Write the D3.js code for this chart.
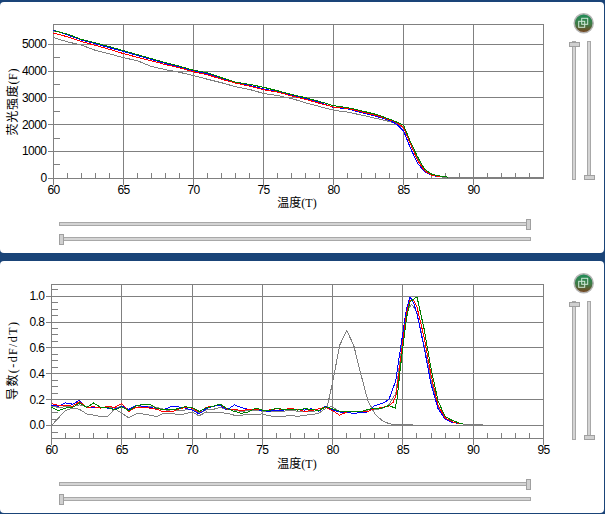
<!DOCTYPE html>
<html><head><meta charset="utf-8">
<script src="https://cdnjs.cloudflare.com/ajax/libs/d3/7.8.5/d3.min.js"></script>
<style>
html,body{margin:0;padding:0;background:#1a4478;overflow:hidden}
svg{display:block}
.num{font:12px "Liberation Sans",sans-serif;letter-spacing:-.55px;fill:#000}
.lab{font:12px "Liberation Serif","Noto Sans CJK SC",serif;fill:#000}
</style></head><body>
<svg id="c" width="605" height="514"></svg>
<script>
const xLabel = "温度(T)";
const topYLabel = "荧光强度(F)";
const botYLabel = "导数(-dF/dT)";
const topXTicks = [60,65,70,75,80,85,90];
const botXTicks = [60,65,70,75,80,85,90,95];
const topYTicks = [0,1000,2000,3000,4000,5000];
const botYTicks = [0,0.2,0.4,0.6,0.8,1.0];

// melt curve: shared temperatures, then each well's own tail through the transition
const meltT = [60,61,62,63,64,65,66,67,68,69,70,71,72,73,74,75,76,77,78,79,80,81,82,83,84,84.5];
const meltGreen = [5520,5390,5190,5060,4920,4770,4620,4470,4320,4190,4040,3940,3760,3590,3510,3400,3270,3130,3010,2870,2710,2640,2520,2390,2210,2100];
const meltBlue  = [5540,5360,5170,5030,4880,4740,4590,4440,4290,4160,4010,3900,3720,3570,3470,3340,3240,3100,2980,2830,2650,2590,2450,2320,2160,2020];
const meltRed   = [5430,5290,5110,4970,4820,4660,4520,4390,4250,4130,3980,3870,3700,3560,3440,3310,3220,3080,2950,2800,2660,2610,2480,2350,2190,2080];
const meltGray  = [5260,5100,4980,4780,4650,4510,4390,4180,4060,3960,3840,3700,3570,3420,3320,3170,3090,2980,2820,2680,2540,2470,2360,2240,2120,2040];
const meltGreenTailT = [85,85.5,86,86.5,87,87.5,88,88.2];
const meltGreenTailV = [1985,1360,800,340,150,85,50,30];
const meltBlueTailT  = [85,85.5,86,86.5,87,87.5,87.7];
const meltBlueTailV  = [1770,1120,560,235,100,50,40];
const meltRedTailT   = [85,85.5,86,86.5,87,87.5,87.9];
const meltRedTailV   = [1900,1270,675,275,115,60,40];
const meltGrayTailT  = [85,85.5,86,86.5,87,87.5,88,95];
const meltGrayTailV  = [1870,1310,740,310,130,60,20,15];

// derivative curve
const derivT = [60,60.5,61,61.5,62,62.5,63,63.5,64,64.5,65,65.5,66,66.5,67,67.5,68,68.5,69,69.5,70,70.5,71,71.5,72,72.5,73,73.5,74,74.5,75,75.5,76,76.5,77,77.5,78,78.5,79,79.5,80,80.5,81,81.5,82,82.5,83,83.5,84];
const derivBlue  = [.155,.15,.175,.165,.195,.14,.14,.14,.135,.125,.15,.125,.155,.15,.14,.13,.125,.145,.145,.135,.12,.09,.13,.15,.155,.12,.16,.14,.125,.125,.115,.11,.12,.12,.13,.125,.12,.13,.11,.15,.12,.105,.1,.095,.1,.105,.155,.17,.2];
const derivRed   = [.17,.155,.155,.15,.185,.14,.145,.135,.15,.14,.17,.11,.14,.14,.135,.125,.105,.105,.125,.14,.135,.105,.14,.15,.165,.125,.125,.115,.125,.125,.12,.12,.13,.125,.13,.125,.11,.115,.13,.14,.115,.08,.105,.105,.105,.11,.13,.14,.15];
const derivGreen = [.14,.115,.135,.14,.175,.14,.175,.14,.14,.12,.145,.115,.15,.165,.165,.13,.125,.12,.13,.145,.14,.11,.135,.15,.165,.13,.11,.095,.105,.135,.12,.115,.135,.125,.125,.12,.13,.125,.115,.145,.13,.11,.105,.105,.105,.125,.135,.135,.155];
const derivGray2 = [.15,.14,.145,.145,.16,.145,.14,.14,.14,.135,.15,.125,.14,.15,.15,.14,.125,.11,.115,.12,.125,.1,.12,.125,.14,.125,.12,.11,.115,.12,.11,.105,.11,.11,.12,.11,.105,.11,.115,.14,.145,.105,.105,.11,.105,.12,.125,.13,.16];
const derivBlueTailT  = [84.5,84.75,85,85.25,85.5,85.75,86,86.5,87,87.5,88,88.5,89];
const derivBlueTailV  = [.35,.54,.72,.9,.995,.95,.865,.607,.32,.13,.05,.025,.015];
const derivRedTailT   = [84.3,84.5,84.75,85,85.25,85.5,85.75,86,86.5,87,87.5,88,88.5,89];
const derivRedTailV   = [.18,.23,.43,.66,.865,.97,.97,.915,.685,.39,.155,.06,.03,.015];
const derivGreenTailT = [84.45,84.6,84.8,85,85.25,85.5,85.75,86,86.5,87,87.5,88,88.5,89,89.3];
const derivGreenTailV = [.135,.22,.43,.61,.83,.955,.975,.995,.75,.44,.19,.07,.04,.02,.015];
const derivGray2TailT = [84.5,85,85.25,85.6,85.75,86,86.5,87,87.5,88,88.5,89,90,90.7];
const derivGray2TailV = [.25,.68,.88,.935,.92,.87,.62,.35,.14,.055,.025,.015,.005,.005];
const derivGray1T = [60,60.5,61,61.5,62,62.5,63,63.5,64,64.5,65,65.5,66,66.5,67,67.5,68,68.5,69,69.5,70,70.5,71,71.5,72,72.5,73,73.5,74,74.5,75,75.5,76,76.5,77,77.5,78,78.5,79,79.6,80,80.5,81,81.5,82,82.5,83,83.5,84,84.5,85.7];
const derivGray1V = [0,.06,.115,.135,.125,.09,.08,.07,.07,.13,.095,.06,.09,.09,.08,.07,.095,.095,.085,.09,.105,.075,.105,.1,.1,.095,.08,.08,.085,.085,.09,.075,.07,.07,.08,.07,.08,.085,.095,.14,.335,.62,.735,.62,.4,.195,.09,.04,.015,.005,.005];

const colors = {blue:"#0000ff", red:"#ff0000", green:"#008000", gray:"#808080"};
const gridColor = "#808080";

const svg = d3.select("#c");
const zip = (t,v,tt=[],tv=[]) => t.concat(tt).map((d,i)=>[d, v.concat(tv)[i]]);

function panel(y,h){
  svg.append("rect").attr("x",0).attr("y",y).attr("width",604).attr("height",h).attr("rx",4).attr("fill","#fff");
}
panel(2,251);
panel(261,252);

function chart(o){
  const x = d3.scaleLinear().domain([60,95]).range([o.left,o.right]);
  const y = d3.scaleLinear().domain(o.yDomain).range([o.bottom,o.top]);
  const g = svg.append("g");
  const w = o.right-o.left, h = o.bottom-o.top;
  const style = s => {
    s.selectAll("path.domain").remove();
    s.selectAll("line").attr("stroke",gridColor).attr("shape-rendering","crispEdges");
    s.selectAll("text").attr("class","num").attr("fill",null);
  };
  // minor ticks, inward
  g.append("g").attr("transform",`translate(0,${o.bottom})`)
    .call(d3.axisBottom(x).offset(0).tickValues(d3.range(60,95).filter(d=>d%5)).tickSize(-6).tickFormat("")).call(style);
  g.append("g").attr("transform",`translate(${o.left},0)`)
    .call(d3.axisLeft(y).offset(0).tickValues(o.yMinor).tickSize(-6).tickFormat("")).call(style);
  // major grid: full height plus a stub outside the plot
  const gx = g.append("g").attr("transform",`translate(0,${o.bottom})`)
    .call(d3.axisBottom(x).offset(0).tickValues(o.xTicks).tickSize(6).tickPadding(1)).call(style);
  gx.selectAll("line").attr("y1",-h);
  const gy = g.append("g").attr("transform",`translate(${o.left},0)`)
    .call(d3.axisLeft(y).offset(0).tickValues(o.yTicks).tickSize(6).tickPadding(1).tickFormat(o.yFormat)).call(style);
  gy.selectAll("line").attr("x1",w);
  // frame
  g.append("rect").attr("x",o.left).attr("y",o.top).attr("width",w).attr("height",h)
    .attr("fill","none").attr("stroke",gridColor).attr("shape-rendering","crispEdges");
  const line = d3.line().x(d=>x(d[0])).y(d=>y(d[1]));
  g.selectAll("path.s").data(o.series).enter().append("path").attr("class","s")
    .attr("d",d=>line(d.pts)).attr("fill","none").attr("stroke",d=>d.c).attr("stroke-width",1)
    .attr("shape-rendering","crispEdges");
  g.append("text").attr("class","lab").attr("x",o.xLabelX).attr("y",o.xLabelY).attr("text-anchor","middle").text(xLabel);
  g.append("text").attr("class","lab").attr("transform",`translate(${o.yLabelX},${o.yLabelY}) rotate(-90)`)
    .attr("text-anchor","middle").attr("textLength",o.yLabelLen).attr("lengthAdjust","spacing").text(o.yLabel);
}

chart({left:53.5,right:543.5,top:24.5,bottom:178.5,yDomain:[-15,5750],
  xTicks:topXTicks,yTicks:topYTicks,yMinor:[500,1500,2500,3500,4500,5500],yFormat:d3.format("d"),
  xLabelX:297,xLabelY:207,yLabelX:17,yLabelY:102,yLabelLen:67,yLabel:topYLabel,
  series:[
    {c:colors.gray,pts:zip(meltT,meltGray,meltGrayTailT,meltGrayTailV)},
    {c:colors.blue,pts:zip(meltT,meltBlue,meltBlueTailT,meltBlueTailV)},
    {c:colors.red,pts:zip(meltT,meltRed,meltRedTailT,meltRedTailV)},
    {c:colors.green,pts:zip(meltT,meltGreen,meltGreenTailT,meltGreenTailV)}
  ]});

chart({left:51.5,right:543.5,top:284.5,bottom:438.5,yDomain:[-0.1,1.09],
  xTicks:botXTicks,yTicks:botYTicks,yMinor:[-.05,.05,.1,.15,.25,.3,.35,.45,.5,.55,.65,.7,.75,.85,.9,.95,1.05],yFormat:d3.format(".1f"),
  xLabelX:297,xLabelY:468,yLabelX:17,yLabelY:361,yLabelLen:78,yLabel:botYLabel,
  series:[
    {c:colors.gray,pts:zip(derivGray1T,derivGray1V)},
    {c:colors.gray,pts:zip(derivT,derivGray2,derivGray2TailT,derivGray2TailV)},
    {c:colors.blue,pts:zip(derivT,derivBlue,derivBlueTailT,derivBlueTailV)},
    {c:colors.red,pts:zip(derivT,derivRed,derivRedTailT,derivRedTailV)},
    {c:colors.green,pts:zip(derivT,derivGreen,derivGreenTailT,derivGreenTailV)}
  ]});

// window controls
function track(x,y,w,h){
  svg.append("rect").attr("x",x).attr("y",y).attr("width",w).attr("height",h)
    .attr("fill","#d4d4d4").attr("stroke","#a8a8a8").attr("shape-rendering","crispEdges");
}
function thumb(x,y,w,h){
  svg.append("rect").attr("x",x).attr("y",y).attr("width",w).attr("height",h)
    .attr("fill","#d0d0d0").attr("stroke","#a0a0a0").attr("shape-rendering","crispEdges");
}
const defs = svg.append("defs");
const grad = defs.append("linearGradient").attr("id","ico").attr("x1",0).attr("y1",0).attr("x2",0).attr("y2",1);
grad.append("stop").attr("offset","0").attr("stop-color","#1f8f5a");
grad.append("stop").attr("offset","0.55").attr("stop-color","#3f7a45");
grad.append("stop").attr("offset","1").attr("stop-color","#7a3f1c");
function icon(cx,cy){
  svg.append("circle").attr("cx",cx).attr("cy",cy).attr("r",9.5).attr("fill","url(#ico)").attr("stroke","#b5b5b5").attr("stroke-width",1.5);
  svg.append("rect").attr("x",cx-5).attr("y",cy-2).attr("width",6).attr("height",6).attr("fill","none").attr("stroke","#cfe8d8");
  svg.append("rect").attr("x",cx-2).attr("y",cy-5).attr("width",6).attr("height",6).attr("fill","none").attr("stroke","#cfe8d8");
}
function controls(hy1,hy2,vTop,vBot){
  track(59.5,hy1,471,3); thumb(526.5,hy1-3,4,10);
  track(59.5,hy2,471,3); thumb(59.5,hy2-3,4,10);
  track(572.5,vTop,3,vBot-vTop); thumb(569.5,vTop+1,10,4);
  track(587.5,vTop,3,vBot-vTop); thumb(584.5,vBot-4,10,4);
}
controls(222.5,237.5,41.5,179.5);
controls(482.5,497.5,301.5,439.5);
icon(583.7,23.3);
icon(583.7,283.3);
</script>
</body></html>
